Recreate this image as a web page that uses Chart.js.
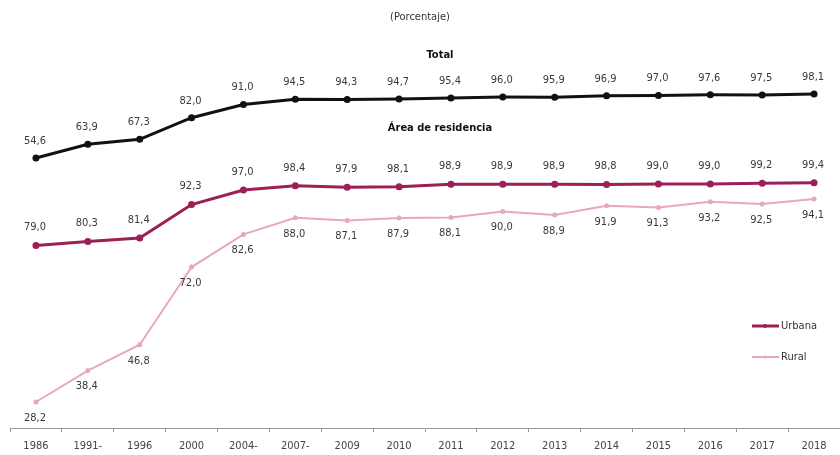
<!DOCTYPE html>
<html>
<head>
<meta charset="utf-8">
<script src="https://cdn.jsdelivr.net/npm/chart.js@4/dist/chart.umd.min.js"></script>
<style>
  html, body { margin: 0; padding: 0; background: #fff; }
  #wrap { width: 840px; height: 455px; position: relative; }
</style>
</head>
<body>
<div id="wrap"><canvas id="myChart"></canvas></div>
<script>
var years = ["1986", "1991-", "1996", "2000", "2004-", "2007-", "2009", "2010", "2011", "2012", "2013", "2014", "2015", "2016", "2017", "2018"];
var total = [54.6, 63.9, 67.3, 82.0, 91.0, 94.5, 94.3, 94.7, 95.4, 96.0, 95.9, 96.9, 97.0, 97.6, 97.5, 98.1];
var urbana = [79.0, 80.3, 81.4, 92.3, 97.0, 98.4, 97.9, 98.1, 98.9, 98.9, 98.9, 98.8, 99.0, 99.0, 99.2, 99.4];
var rural = [28.2, 38.4, 46.8, 72.0, 82.6, 88.0, 87.1, 87.9, 88.1, 90.0, 88.9, 91.9, 91.3, 93.2, 92.5, 94.1];

var narrow = "'Liberation Sans Narrow', 'DejaVu Sans Condensed', 'Roboto', sans-serif";

function fmt(v) {
  return v.toFixed(1).replace(".", ",");
}

// value labels above / below each point
var pointLabels = {
  id: "pointLabels",
  afterDatasetsDraw: function (chart) {
    var ctx = chart.ctx;
    ctx.save();
    ctx.font = "11px " + narrow;
    ctx.fillStyle = "#3a3a3a";
    ctx.textAlign = "center";
    ctx.textBaseline = "middle";
    chart.data.datasets.forEach(function (ds, i) {
      chart.getDatasetMeta(i).data.forEach(function (pt, j) {
        ctx.fillText(fmt(ds.data[j]), pt.x - 1, pt.y + ds.labelShift);
      });
    });
    ctx.restore();
  }
};

// headings and the small legend on the right
var headings = {
  id: "headings",
  afterDraw: function (chart) {
    var ctx = chart.ctx;
    ctx.save();
    ctx.textAlign = "center";
    ctx.textBaseline = "middle";
    ctx.fillStyle = "#333";
    ctx.font = "11px " + narrow;
    ctx.fillText("(Porcentaje)", 420, 17);
    ctx.fillStyle = "#111";
    ctx.font = "bold 11px " + narrow;
    ctx.fillText("Total", 440, 55);
    ctx.fillText("Área de residencia", 440, 128);

    ctx.textAlign = "left";
    ctx.font = "11px " + narrow;
    [1, 2].forEach(function (i, k) {
      var ds = chart.data.datasets[i];
      var y = 326 + k * 31;
      ctx.strokeStyle = ds.borderColor;
      ctx.lineWidth = ds.borderWidth;
      ctx.beginPath();
      ctx.moveTo(752, y);
      ctx.lineTo(779, y);
      ctx.stroke();
      ctx.fillStyle = ds.borderColor;
      ctx.beginPath();
      ctx.arc(765, y, ds.pointRadius, 0, Math.PI * 2);
      ctx.fill();
      ctx.fillStyle = "#333";
      ctx.fillText(ds.label, 781, y);
    });
    ctx.restore();
  }
};

new Chart("myChart", {
  type: "line",
  data: {
    labels: years,
    datasets: [{
      label: "Total",
      data: total,
      yAxisID: "yTotal",
      borderColor: "#111111",
      backgroundColor: "#111111",
      borderWidth: 3,
      pointRadius: 2,
      labelShift: -17
    }, {
      label: "Urbana",
      data: urbana,
      yAxisID: "y",
      borderColor: "#9c1f55",
      backgroundColor: "#9c1f55",
      borderWidth: 3,
      pointRadius: 2,
      labelShift: -18
    }, {
      label: "Rural",
      data: rural,
      yAxisID: "y",
      borderColor: "#e8a6c4",
      backgroundColor: "#e8a6c4",
      borderWidth: 2,
      pointRadius: 1.5,
      labelShift: 16
    }]
  },
  options: {
    responsive: true,
    maintainAspectRatio: false,
    animation: false,
    events: [],
    layout: { autoPadding: false, padding: { top: 28, left: 10, right: 0, bottom: 0 } },
    plugins: {
      legend: { display: false },
      tooltip: { enabled: false }
    },
    scales: {
      x: {
        offset: true,
        afterFit: function (s) {
          s.height = 27;
          s.paddingLeft = 0;
          s.paddingRight = 0;
        },
        grid: {
          offset: true,
          drawOnChartArea: false,
          tickLength: 4,
          color: "#999"
        },
        border: { color: "#999", width: 1 },
        ticks: {
          padding: 8,
          color: "#444",
          maxRotation: 0,
          autoSkip: false,
          font: { family: narrow, size: 11 }
        }
      },
      y: {
        display: false,
        min: 19.76,
        max: 149.6
      },
      yTotal: {
        display: false,
        min: -129.1,
        max: 143.0
      }
    }
  },
  plugins: [pointLabels, headings]
});
</script>
</body>
</html>
